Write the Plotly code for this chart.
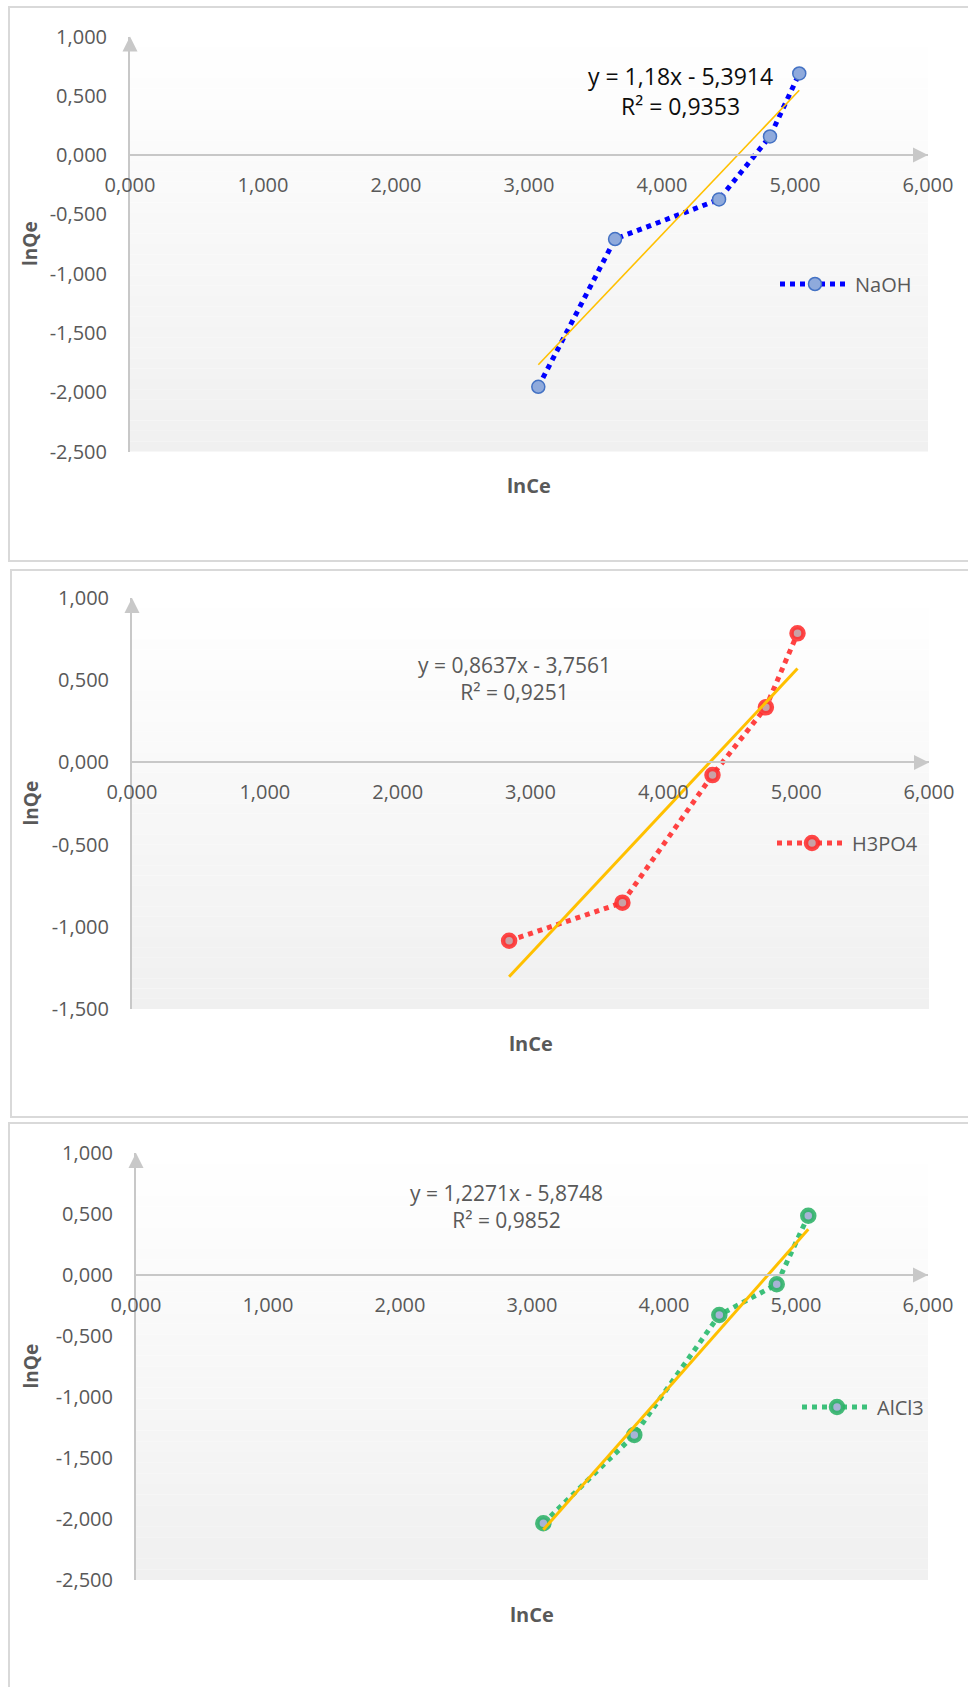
import plotly.graph_objects as go

# ---- data: lnCe (x) and lnQe (y) for each activating agent ----
naoh_lnce = [3.070, 3.647, 4.429, 4.812, 5.032]
naoh_lnqe = [-1.954, -0.708, -0.374, 0.157, 0.688]

h3po4_lnce = [2.839, 3.692, 4.370, 4.772, 5.010]
h3po4_lnqe = [-1.085, -0.853, -0.077, 0.335, 0.785]

alcl3_lnce = [3.086, 3.775, 4.419, 4.854, 5.093]
alcl3_lnqe = [-2.035, -1.311, -0.328, -0.076, 0.486]

# linear trendlines: slope, intercept, R²
naoh_fit = (1.18, -5.3914, 0.9353)
h3po4_fit = (0.8637, -3.7561, 0.9251)
alcl3_fit = (1.2271, -5.8748, 0.9852)

series_names = ["NaOH", "H3PO4", "AlCl3"]

x_tick_values = [0, 1, 2, 3, 4, 5, 6]
y_tick_values_wide = [-2.5, -2.0, -1.5, -1.0, -0.5, 0.0, 0.5, 1.0]
y_tick_values_narrow = [-1.5, -1.0, -0.5, 0.0, 0.5, 1.0]

# ---- page geometry (pixels) ----
W, H = 968, 1687
FONT = "Open Sans, Noto Sans, sans-serif"
GREY_TEXT = "#595959"
AXIS_GREY = "#c8c8c8"


def px_x(p):
    return p / W


def px_y(p):
    return 1 - p / H


def dec(v, places=3):
    return f"{v:.{places}f}".replace(".", ",")


def num(v):
    return str(v).replace(".", ",")


panels = [
    dict(name=series_names[0], x=naoh_lnce, y=naoh_lnqe, fit=naoh_fit,
         yticks=y_tick_values_wide,
         box=(130, 928, 36.5, 451.5), frame=(9, 7, 972, 561),
         eq_pos=(680, 91), eq_size=23, eq_color="#0d0d0d",
         legend_pos=(775, 284),
         line_color="#0000ff", marker_fill="#8faadc", marker_line="#4472c4",
         marker_size=13, marker_lw=1.5, fit_width=1.6),
    dict(name=series_names[1], x=h3po4_lnce, y=h3po4_lnqe, fit=h3po4_fit,
         yticks=y_tick_values_narrow,
         box=(132, 929, 598, 1009), frame=(11, 570, 972, 1117),
         eq_pos=(514, 678), eq_size=21, eq_color=GREY_TEXT,
         legend_pos=(772, 843),
         line_color="#ff4242", marker_fill="#c9a2a6", marker_line="rgba(255,45,45,0.88)",
         marker_size=12, marker_lw=4.5, fit_width=3),
    dict(name=series_names[2], x=alcl3_lnce, y=alcl3_lnqe, fit=alcl3_fit,
         yticks=y_tick_values_wide,
         box=(136, 928, 1153, 1580), frame=(9, 1123, 972, 1700),
         eq_pos=(507, 1206), eq_size=21, eq_color=GREY_TEXT,
         legend_pos=(797, 1407),
         line_color="#3cc07a", marker_fill="#a7b3d6", marker_line="rgba(44,178,102,0.88)",
         marker_size=12, marker_lw=4.5, fit_width=3),
]

fig = go.Figure()
shapes = []
annotations = []
layout_axes = {}
legend_keys = ["legend", "legend2", "legend3"]

for i, p in enumerate(panels):
    n = "" if i == 0 else str(i + 1)
    xa, ya = "x" + n, "y" + n
    left, right, top, bottom = p["box"]
    y_lo, y_hi = p["yticks"][0], p["yticks"][-1]
    x_lo, x_hi = x_tick_values[0], x_tick_values[-1]

    dom_y = [px_y(bottom), px_y(top)]
    zero_paper = dom_y[0] + (0 - y_lo) / (y_hi - y_lo) * (dom_y[1] - dom_y[0])

    layout_axes["xaxis" + n] = dict(
        domain=[px_x(left), px_x(right)], range=[x_lo, x_hi],
        anchor="free", position=zero_paper, automargin=False,
        showline=True, linecolor=AXIS_GREY, linewidth=2,
        showgrid=False, zeroline=False, ticks="",
        tickvals=x_tick_values, ticktext=[dec(v) for v in x_tick_values],
        tickfont=dict(family=FONT, size=20, color=GREY_TEXT),
        ticklabelstandoff=12, fixedrange=True,
    )
    layout_axes["yaxis" + n] = dict(
        domain=dom_y, range=[y_lo, y_hi], anchor=xa, automargin=False,
        showline=True, linecolor=AXIS_GREY, linewidth=2,
        showgrid=False, zeroline=False, ticks="",
        tickvals=p["yticks"], ticktext=[dec(v) for v in p["yticks"]],
        tickfont=dict(family=FONT, size=20, color=GREY_TEXT),
        ticklabelstandoff=17, fixedrange=True,
    )

    # chart frame
    fl, ft, fr, fb = p["frame"]
    shapes.append(dict(type="rect", xref="paper", yref="paper",
                       x0=px_x(fl), x1=px_x(fr), y0=px_y(fb), y1=px_y(ft),
                       line=dict(color="#d9d9d9", width=2), fillcolor="rgba(0,0,0,0)",
                       layer="below"))

    # plot-area gradient: white at top fading to light grey at the bottom
    bands = 40
    for b in range(bands):
        t = (b + 0.5) / bands  # 0 at bottom, 1 at top
        g = round(240 + 15 * t)
        shapes.append(dict(type="rect", xref=xa + " domain", yref=ya + " domain",
                           x0=0, x1=1, y0=b / bands, y1=(b + 1) / bands,
                           fillcolor=f"rgb({g},{g},{g})", line=dict(width=0),
                           layer="below"))

    # axis arrowheads
    shapes.append(dict(type="path", xref="paper", yref="paper",
                       xsizemode="pixel", ysizemode="pixel",
                       xanchor=px_x(left), yanchor=dom_y[1],
                       path="M-7.5,-15 L7.5,-15 L0,0 Z",
                       fillcolor=AXIS_GREY, line=dict(width=0)))
    shapes.append(dict(type="path", xref="paper", yref="paper",
                       xsizemode="pixel", ysizemode="pixel",
                       xanchor=px_x(right), yanchor=zero_paper,
                       path="M0,0 L-15,7.5 L-15,-7.5 Z",
                       fillcolor=AXIS_GREY, line=dict(width=0)))

    # data series
    leg = legend_keys[i]
    fig.add_trace(go.Scatter(
        x=p["x"], y=p["y"], name=p["name"], mode="lines+markers",
        xaxis=xa, yaxis=ya, legend=leg,
        line=dict(color=p["line_color"], width=5, dash="dot"),
        marker=dict(size=p["marker_size"], color=p["marker_fill"],
                    line=dict(color=p["marker_line"], width=p["marker_lw"])),
    ))

    # linear trendline over the data range
    slope, intercept, r2 = p["fit"]
    fx = [min(p["x"]), max(p["x"])]
    fy = [slope * v + intercept for v in fx]
    fig.add_trace(go.Scatter(
        x=fx, y=fy, mode="lines", showlegend=False, hoverinfo="skip",
        xaxis=xa, yaxis=ya,
        line=dict(color="#ffc000", width=p["fit_width"]),
    ))

    sign = "-" if intercept < 0 else "+"
    eq = f"y = {num(slope)}x {sign} {num(abs(intercept))}<br>R² = {num(r2)}"
    ex, ey = p["eq_pos"]
    annotations.append(dict(xref="paper", yref="paper", x=px_x(ex), y=px_y(ey),
                            xanchor="center", yanchor="middle", showarrow=False,
                            align="center", text=eq,
                            font=dict(family=FONT, size=p["eq_size"], color=p["eq_color"])))

    # axis titles
    annotations.append(dict(xref="paper", yref="paper",
                            x=px_x((left + right) / 2), y=px_y(bottom + 34),
                            xanchor="center", yanchor="middle", showarrow=False,
                            text="lnCe",
                            font=dict(family=FONT, size=20, color=GREY_TEXT, weight="bold")))
    annotations.append(dict(xref="paper", yref="paper",
                            x=px_x(30), y=px_y((top + bottom) / 2),
                            xanchor="center", yanchor="middle", showarrow=False,
                            text="lnQe", textangle=-90,
                            font=dict(family=FONT, size=19, color=GREY_TEXT, weight="bold")))

    lx, ly = p["legend_pos"]
    layout_axes[leg] = dict(x=px_x(lx), xanchor="left", y=px_y(ly), yanchor="middle",
                            bgcolor="rgba(0,0,0,0)", borderwidth=0, itemwidth=70,
                            font=dict(family=FONT, size=20, color=GREY_TEXT))

fig.update_layout(
    width=W, height=H,
    margin=dict(l=0, r=0, t=0, b=0, autoexpand=False),
    paper_bgcolor="white", plot_bgcolor="white",
    shapes=shapes, annotations=annotations,
    font=dict(family=FONT, color=GREY_TEXT),
    **layout_axes,
)

fig.write_html("out.html")
